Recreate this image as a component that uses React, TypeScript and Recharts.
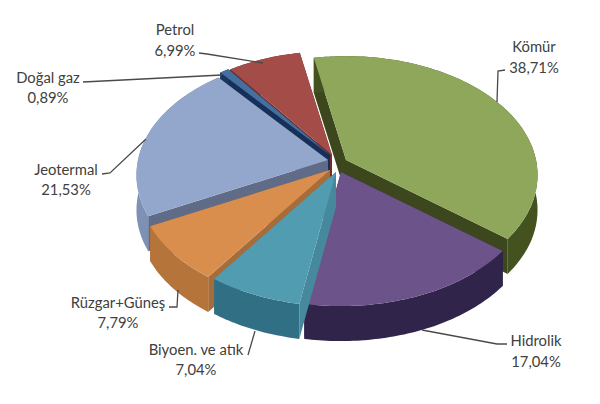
import React from "react";
import { Pie, PieChart } from "recharts";

const names = ["Kömür", "Hidrolik", "Biyoen. ve atık", "Rüzgar+Güneş", "Jeotermal", "Doğal gaz", "Petrol"];
const shares = [38.71, 17.04, 7.04, 7.79, 21.53, 0.89, 6.99];
const chartData = names.map((name, i) => ({ name, value: shares[i] }));

// back to front, the wedges overlap like a real 3d pie
const drawOrder = ["Petrol", "Doğal gaz", "Jeotermal", "Kömür", "Rüzgar+Güneş", "Hidrolik", "Biyoen. ve atık"];

const looks: Record<string, any> = {
  "Kömür": { top: "#8fa75b", outer: "#44521f", side: "#3c471d", dx: 16, dy: -5 },
  "Hidrolik": { top: "#6c5389", outer: "#31244a", side: "#2b2040", dx: 11, dy: 7 },
  "Biyoen. ve atık": { top: "#519cb1", outer: "#316f84", side: "#47899c", dx: 6, dy: 7 },
  "Rüzgar+Güneş": { top: "#d98e4e", outer: "#b4743a", side: "#a66c3a", dx: 0, dy: 5 },
  "Jeotermal": { top: "#93a7cd", outer: "#7e91b4", side: "#5f6b87", dx: -2, dy: -5 },
  "Doğal gaz": { top: "#456f9f", outer: "#1a3560", side: "#16305a", dx: 0, dy: -10 },
  "Petrol": { top: "#a34c48", outer: "#6e2f2c", side: "#6e2f2c", dx: 2, dy: -10 },
};

const labelSpots: Record<string, any> = {
  "Kömür": { x: 534, y: 46, gap: 21, line: "505,70 498,71 497,102" },
  "Hidrolik": { x: 536, y: 340, gap: 21, line: "422,330 497,344 507,344" },
  "Biyoen. ve atık": { x: 196, y: 349, gap: 20, line: "248,355 255,331" },
  "Rüzgar+Güneş": { x: 118, y: 302, gap: 20, line: "169,307 177,307 178,290" },
  "Jeotermal": { x: 66, y: 169, gap: 20, line: "102,174 110,173 146,139" },
  "Doğal gaz": { x: 48, y: 77, gap: 20, line: "83,82 222,75" },
  "Petrol": { x: 175, y: 29, gap: 21, line: "199,53 207,54 263,63" },
};

const tilt = 0.616;
const persp = 0.127;
const depth = 35;

function project(deg: number, r: number) {
  const t = ((90 - deg) * Math.PI) / 180;
  const X = Math.sin(t);
  const Y = Math.cos(t);
  const s = 1 / (1 + persp * Y);
  return [r * X * s, -r * tilt * Y * s];
}

function Wedge({ cx, cy, outerRadius, startAngle, endAngle, name }: any) {
  const look = looks[name];
  const ox = cx + look.dx;
  const oy = cy + look.dy;
  const rim: number[][] = [];
  const steps = Math.max(2, Math.ceil(Math.abs(startAngle - endAngle)));
  for (let i = 0; i <= steps; i++) {
    const [x, y] = project(startAngle + ((endAngle - startAngle) * i) / steps, outerRadius);
    rim.push([ox + x, oy + y]);
  }
  const first = rim[0];
  const last = rim[rim.length - 1];
  const toPath = (pts: number[][]) => "M" + pts.map((p) => p[0].toFixed(1) + "," + p[1].toFixed(1)).join("L") + "Z";
  const down = (pts: number[][]) => pts.map((p) => [p[0], p[1] + depth]);
  const band = [...rim, ...down(rim).reverse()];
  return (
    <g>
      <path d={toPath([[ox, oy], first, [first[0], first[1] + depth], [ox, oy + depth]])} fill={look.side} />
      <path d={toPath([[ox, oy], last, [last[0], last[1] + depth], [ox, oy + depth]])} fill={look.side} />
      <path d={toPath(band)} fill={look.outer} />
      <path d={toPath([[ox, oy], ...rim])} fill={look.top} />
    </g>
  );
}

function SliceLabel({ name, value }: any) {
  const spot = labelSpots[name];
  return (
    <g>
      <polyline points={spot.line} fill="none" stroke="#4a4a4a" strokeWidth={1.3} />
      <text x={spot.x} y={spot.y} textAnchor="middle" dominantBaseline="central" fontFamily="Lato" fontSize={14.8} fill="#404040">
        {name}
      </text>
      <text x={spot.x} y={spot.y + spot.gap} textAnchor="middle" dominantBaseline="central" fontFamily="Lato" fontSize={14.8} fill="#404040">
        {value.toFixed(2).replace(".", ",") + "%"}
      </text>
    </g>
  );
}

export default function App() {
  return (
    <div style={{ position: "fixed", left: 0, top: 0, width: 600, height: 404, background: "#fff" }}>
      <PieChart width={600} height={404} margin={{ top: 0, right: 0, bottom: 0, left: 0 }}>
        {drawOrder.map((which) => (
          <Pie
            key={which}
            data={chartData}
            dataKey="value"
            nameKey="name"
            cx={330}
            cy={165}
            outerRadius={190}
            startAngle={101}
            endAngle={-259}
            stroke="none"
            isAnimationActive={false}
            shape={(props: any) => (props.name === which ? <Wedge {...props} /> : <g />)}
          />
        ))}
        <Pie
          data={chartData}
          dataKey="value"
          nameKey="name"
          cx={330}
          cy={165}
          outerRadius={190}
          startAngle={101}
          endAngle={-259}
          isAnimationActive={false}
          fill="none"
          stroke="none"
          shape={() => <g />}
          labelLine={false}
          label={(props: any) => <SliceLabel name={props.name} value={props.value} />}
        />
      </PieChart>
    </div>
  );
}
